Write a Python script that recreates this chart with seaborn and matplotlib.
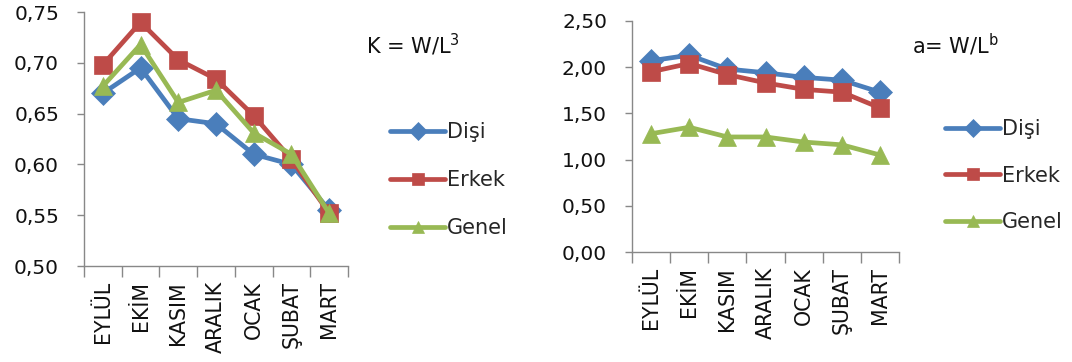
import matplotlib
matplotlib.use("Agg")
import matplotlib.pyplot as plt
import seaborn as sns
import pandas as pd
import numpy as np
from matplotlib.ticker import FixedLocator, FuncFormatter

sns.set_theme(style="white")
plt.rcParams['font.family'] = ['DejaVu Sans']
plt.rcParams['mathtext.fontset'] = 'dejavusans'

months = ["EYLÜL", "EKİM", "KASIM", "ARALIK", "OCAK", "ŞUBAT", "MART"]
series = ["Dişi", "Erkek", "Genel"]

k_disi = [0.670, 0.695, 0.645, 0.640, 0.610, 0.600, 0.555]
k_erkek = [0.698, 0.740, 0.703, 0.684, 0.648, 0.605, 0.552]
k_genel = [0.677, 0.718, 0.661, 0.673, 0.631, 0.610, 0.552]

a_disi = [2.07, 2.13, 1.98, 1.94, 1.89, 1.86, 1.73]
a_erkek = [1.95, 2.04, 1.92, 1.83, 1.76, 1.73, 1.56]
a_genel = [1.28, 1.35, 1.245, 1.245, 1.19, 1.16, 1.05]

colors = {"Dişi": "#4A7EBB", "Erkek": "#BE4B48", "Genel": "#98B954"}
markers = {"Dişi": "D", "Erkek": "s", "Genel": "^"}

def long_df(d, e, g):
    rows = []
    for s, vals in zip(series, [d, e, g]):
        for i, v in enumerate(vals):
            rows.append({"x": i, "Ay": months[i], "Seri": s, "v": v})
    return pd.DataFrame(rows)

dfk = long_df(k_disi, k_erkek, k_genel)
dfa = long_df(a_disi, a_erkek, a_genel)

fig = plt.figure(figsize=(10.72, 3.62), dpi=100)
W, H = 1072, 362
ax1 = fig.add_axes([84 / W, 1 - 266 / H, (348 - 84) / W, (266 - 12) / H])
ax2 = fig.add_axes([632 / W, 1 - 252 / H, (899 - 632) / W, (252 - 21) / H])

YFS = 14.5
XFS = 14.8
LFS = 15

def draw(ax, df, ylim, yticks, title, tx, ty, lx, ly, lsp):
    sns.lineplot(data=df, x="x", y="v", hue="Seri", style="Seri",
                 palette=colors, markers=markers, dashes=False,
                 linewidth=3.4, markersize=12, markeredgewidth=0.5,
                 ax=ax, legend=True)
    for ln in ax.lines:
        ln.set_markeredgecolor(ln.get_color())
        if ln.get_marker() in ("s", "^"):
            ln.set_markersize(13.5)
    ax.set_xlim(-0.5, 6.5)
    ax.set_ylim(*ylim)
    ax.set_yticks(yticks)
    ax.yaxis.set_major_formatter(FuncFormatter(lambda v, p: "{:.2f}".format(v).replace(".", ",")))
    ax.set_xticks(range(7))
    ax.set_xticklabels(months, rotation=90)
    ax.xaxis.set_minor_locator(FixedLocator(np.arange(-0.5, 7, 1)))
    ax.tick_params(axis="x", which="major", length=0, pad=11, labelsize=XFS, colors="#111111")
    ax.tick_params(axis="x", which="minor", length=8, width=1, color="#888888", direction="out", bottom=True)
    ax.tick_params(axis="y", which="major", length=5, width=1, color="#888888", direction="out", left=True,
                   labelsize=YFS, labelcolor="#111111", pad=13)
    ax.set_xlabel("")
    ax.set_ylabel("")
    for s in ["top", "right"]:
        ax.spines[s].set_visible(False)
    for s in ["left", "bottom"]:
        ax.spines[s].set_color("#888888")
        ax.spines[s].set_linewidth(1)
    ax.grid(False)
    fig.text(tx / W, 1 - ty / H, title, fontsize=LFS, color="#111111", va="center", ha="left")
    handles, labels = ax.get_legend_handles_labels()
    leg = ax.legend(handles, labels, loc="upper left", bbox_to_anchor=(lx / W, 1 - ly / H),
                    bbox_transform=fig.transFigure, frameon=False, fontsize=LFS,
                    handlelength=2.65, handletextpad=0.1, labelspacing=lsp, borderpad=0,
                    borderaxespad=0)
    for h in leg.legend_handles:
        h.set_markersize(9)
        h.set_linewidth(3.4)
        h.set_markeredgecolor(h.get_color())

draw(ax1, dfk, (0.50, 0.75), [0.50, 0.55, 0.60, 0.65, 0.70, 0.75],
     r"K = W/L$^{3}$", 366, 45, 390, 122, 1.35)
draw(ax2, dfa, (0.0, 2.5), [0.0, 0.5, 1.0, 1.5, 2.0, 2.5],
     r"a= W/L$^{\mathrm{b}}$", 912, 45, 945, 119, 1.28)

fig.savefig("out.png", dpi=100)
